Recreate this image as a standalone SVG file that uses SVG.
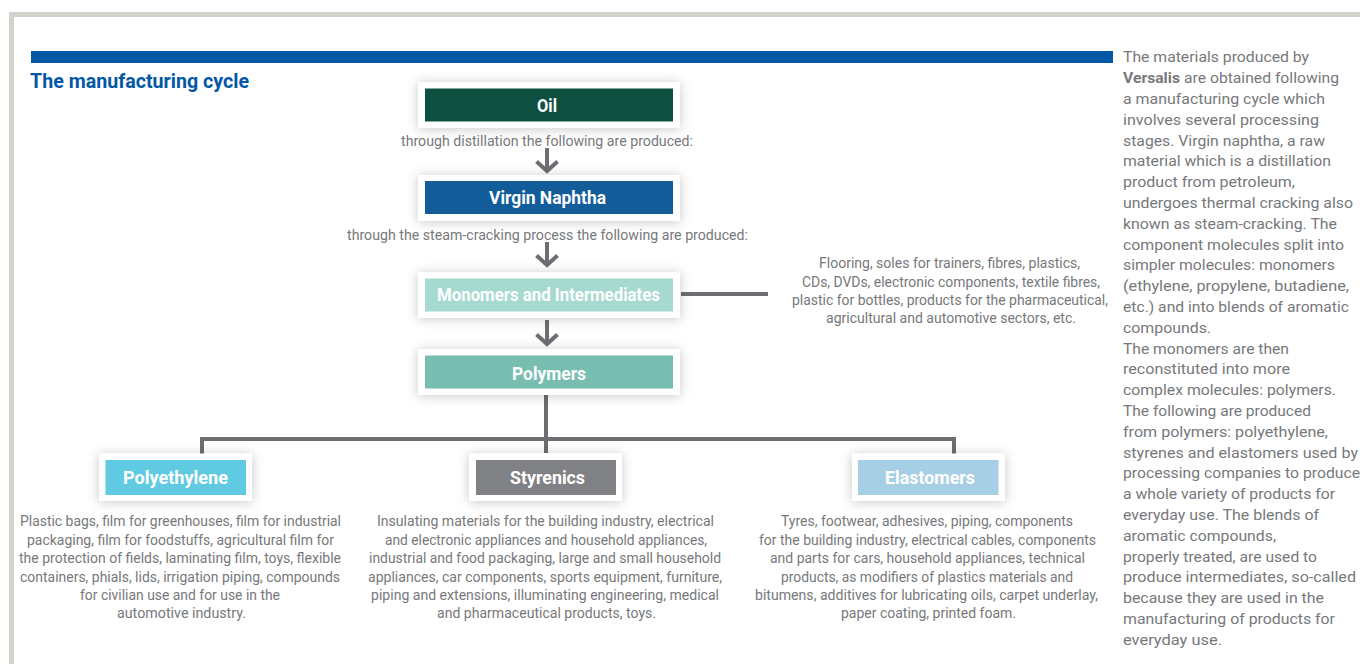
<svg xmlns="http://www.w3.org/2000/svg" width="1360" height="664" viewBox="0 0 1360 664">
<style>
text{font-family:"Roboto","Liberation Sans",sans-serif}
.b{font-size:14px;fill:#77787b;font-weight:400}
.p{font-size:15.5px;fill:#77787b;font-weight:400}
.n{font-size:18px;font-weight:700;fill:#fff}
.c{fill:none;stroke:#6d6e71;stroke-width:4}
.w{fill:#fff;filter:url(#s)}
</style>
<defs>
<filter id="s" x="-20%" y="-50%" width="140%" height="200%"><feDropShadow dx="0" dy="1" stdDeviation="6" flood-color="#000" flood-opacity="0.22"/></filter>
<marker id="a" markerUnits="userSpaceOnUse" markerWidth="28" markerHeight="28" refX="14" refY="14" orient="auto"><path d="M3.500 3.500L13 14L3.500 24.500" fill="none" stroke="#6d6e71" stroke-width="4"/></marker>
</defs>
<rect width="1360" height="664" fill="#fff"/>
<path d="M1360 14.500H11.500V664" fill="none" stroke="#d2d3cd" stroke-width="5"/>
<rect x="31" y="51" width="1082" height="12" fill="#0358a5"/>
<text x="30" y="88" textLength="219" lengthAdjust="spacingAndGlyphs" style="font-size:20px;font-weight:700;fill:#0358a5">The manufacturing cycle</text>
<g id="connectors">
<path class="c" d="M547 148V172" marker-end="url(#a)"/>
<path class="c" d="M547 242V266" marker-end="url(#a)"/>
<path class="c" d="M547 320V345" marker-end="url(#a)"/>
<path class="c" d="M681 294H768"/>
<path class="c" d="M546 395V453"/>
<path class="c" d="M202 455V439H954V455"/>
</g>
<g id="oil"><rect class="w" x="418" y="82" width="262" height="46"/><rect x="425" y="88.500" width="248" height="33" fill="#0d5040"/><text class="n" x="537" y="111.500" textLength="20" lengthAdjust="spacingAndGlyphs">Oil</text></g>
<g id="virgin-naphtha"><rect class="w" x="418" y="175" width="262" height="46"/><rect x="425" y="181" width="248" height="33" fill="#125d99"/><text class="n" x="489" y="204" textLength="117" lengthAdjust="spacingAndGlyphs">Virgin Naphtha</text></g>
<g id="monomers"><rect class="w" x="418" y="272" width="262" height="46"/><rect x="425" y="278.500" width="248" height="33" fill="#a6d9d0"/><text class="n" x="437" y="300.500" textLength="223" lengthAdjust="spacingAndGlyphs">Monomers and Intermediates</text></g>
<g id="polymers"><rect class="w" x="418" y="349" width="262" height="46"/><rect x="425" y="355.500" width="248" height="33" fill="#77bdb0"/><text class="n" x="512" y="379.500" textLength="74" lengthAdjust="spacingAndGlyphs">Polymers</text></g>
<g id="polyethylene"><rect class="w" x="99" y="453.500" width="153" height="47.500"/><rect x="105.500" y="460" width="140.500" height="35" fill="#60cae3"/><text class="n" x="123" y="484" textLength="105" lengthAdjust="spacingAndGlyphs">Polyethylene</text></g>
<g id="styrenics"><rect class="w" x="469" y="453.500" width="153" height="47.500"/><rect x="476" y="460" width="140" height="35" fill="#808184"/><text class="n" x="510" y="484" textLength="75" lengthAdjust="spacingAndGlyphs">Styrenics</text></g>
<g id="elastomers"><rect class="w" x="852" y="453.500" width="153" height="47.500"/><rect x="858" y="460" width="140.500" height="35" fill="#a6cfe5"/><text class="n" x="885" y="484" textLength="90" lengthAdjust="spacingAndGlyphs">Elastomers</text></g>
<g id="captions">
<text class="b" x="401" y="145.700" textLength="292" lengthAdjust="spacingAndGlyphs">through distillation the following are produced:</text>
<text class="b" x="347" y="239.700" textLength="401" lengthAdjust="spacingAndGlyphs">through the steam-cracking process the following are produced:</text>
</g>
<g id="monomers-text" transform="translate(0,0.700)">
<text class="b" x="819" y="267" textLength="261" lengthAdjust="spacingAndGlyphs">Flooring, soles for trainers, fibres, plastics,</text>
<text class="b" x="802" y="286" textLength="298" lengthAdjust="spacingAndGlyphs">CDs, DVDs, electronic components, textile fibres,</text>
<text class="b" x="792" y="304" textLength="316" lengthAdjust="spacingAndGlyphs">plastic for bottles, products for the pharmaceutical,</text>
<text class="b" x="826" y="322" textLength="250" lengthAdjust="spacingAndGlyphs">agricultural and automotive sectors, etc.</text>
</g>
<g id="polyethylene-text" transform="translate(0,0.700)">
<text class="b" x="20" y="525" textLength="321" lengthAdjust="spacingAndGlyphs">Plastic bags, film for greenhouses, film for industrial</text>
<text class="b" x="27" y="544" textLength="307" lengthAdjust="spacingAndGlyphs">packaging, film for foodstuffs, agricultural film for</text>
<text class="b" x="19" y="562" textLength="322" lengthAdjust="spacingAndGlyphs">the protection of fields, laminating film, toys, flexible</text>
<text class="b" x="20" y="581" textLength="320" lengthAdjust="spacingAndGlyphs">containers, phials, lids, irrigation piping, compounds</text>
<text class="b" x="80" y="599" textLength="200" lengthAdjust="spacingAndGlyphs">for civilian use and for use in the</text>
<text class="b" x="117" y="617" textLength="129" lengthAdjust="spacingAndGlyphs">automotive industry.</text>
</g>
<g id="styrenics-text" transform="translate(0,0.700)">
<text class="b" x="377" y="525" textLength="337" lengthAdjust="spacingAndGlyphs">Insulating materials for the building industry, electrical</text>
<text class="b" x="385" y="544" textLength="322" lengthAdjust="spacingAndGlyphs">and electronic appliances and household appliances,</text>
<text class="b" x="369" y="562" textLength="352" lengthAdjust="spacingAndGlyphs">industrial and food packaging, large and small household</text>
<text class="b" x="368" y="581" textLength="354" lengthAdjust="spacingAndGlyphs">appliances, car components, sports equipment, furniture,</text>
<text class="b" x="371" y="599" textLength="348" lengthAdjust="spacingAndGlyphs">piping and extensions, illuminating engineering, medical</text>
<text class="b" x="437" y="617" textLength="219" lengthAdjust="spacingAndGlyphs">and pharmaceutical products, toys.</text>
</g>
<g id="elastomers-text" transform="translate(0,0.700)">
<text class="b" x="781" y="525" textLength="292" lengthAdjust="spacingAndGlyphs">Tyres, footwear, adhesives, piping, components</text>
<text class="b" x="759" y="544" textLength="337" lengthAdjust="spacingAndGlyphs">for the building industry, electrical cables, components</text>
<text class="b" x="770" y="562" textLength="315" lengthAdjust="spacingAndGlyphs">and parts for cars, household appliances, technical</text>
<text class="b" x="781" y="581" textLength="292" lengthAdjust="spacingAndGlyphs">products, as modifiers of plastics materials and</text>
<text class="b" x="755" y="599" textLength="343" lengthAdjust="spacingAndGlyphs">bitumens, additives for lubricating oils, carpet underlay,</text>
<text class="b" x="841" y="617" textLength="175" lengthAdjust="spacingAndGlyphs">paper coating, printed foam.</text>
</g>
<g id="side-text" transform="translate(0,-0.600)">
<text class="p" x="1123" y="63" textLength="186" lengthAdjust="spacingAndGlyphs">The materials produced by</text>
<text class="p" x="1123" y="83.800" textLength="57" lengthAdjust="spacingAndGlyphs" style="font-weight:700">Versalis</text>
<text class="p" x="1184" y="83.800" textLength="155" lengthAdjust="spacingAndGlyphs">are obtained following</text>
<text class="p" x="1123" y="104.600" textLength="202" lengthAdjust="spacingAndGlyphs">a manufacturing cycle which</text>
<text class="p" x="1123" y="125.400" textLength="196" lengthAdjust="spacingAndGlyphs">involves several processing</text>
<text class="p" x="1123" y="146.200" textLength="202" lengthAdjust="spacingAndGlyphs">stages. Virgin naphtha, a raw</text>
<text class="p" x="1123" y="167" textLength="208" lengthAdjust="spacingAndGlyphs">material which is a distillation</text>
<text class="p" x="1123" y="187.800" textLength="172" lengthAdjust="spacingAndGlyphs">product from petroleum,</text>
<text class="p" x="1123" y="208.600" textLength="230" lengthAdjust="spacingAndGlyphs">undergoes thermal cracking also</text>
<text class="p" x="1123" y="229.400" textLength="214" lengthAdjust="spacingAndGlyphs">known as steam-cracking. The</text>
<text class="p" x="1123" y="250.200" textLength="221" lengthAdjust="spacingAndGlyphs">component molecules split into</text>
<text class="p" x="1123" y="271" textLength="212" lengthAdjust="spacingAndGlyphs">simpler molecules: monomers</text>
<text class="p" x="1123" y="291.800" textLength="226" lengthAdjust="spacingAndGlyphs">(ethylene, propylene, butadiene,</text>
<text class="p" x="1123" y="312.600" textLength="226" lengthAdjust="spacingAndGlyphs">etc.) and into blends of aromatic</text>
<text class="p" x="1123" y="333.400" textLength="88" lengthAdjust="spacingAndGlyphs">compounds.</text>
<text class="p" x="1123" y="354.200" textLength="166" lengthAdjust="spacingAndGlyphs">The monomers are then</text>
<text class="p" x="1123" y="375" textLength="167" lengthAdjust="spacingAndGlyphs">reconstituted into more</text>
<text class="p" x="1123" y="395.800" textLength="213" lengthAdjust="spacingAndGlyphs">complex molecules: polymers.</text>
<text class="p" x="1123" y="416.600" textLength="188" lengthAdjust="spacingAndGlyphs">The following are produced</text>
<text class="p" x="1123" y="437.400" textLength="205" lengthAdjust="spacingAndGlyphs">from polymers: polyethylene,</text>
<text class="p" x="1123" y="458.200" textLength="235" lengthAdjust="spacingAndGlyphs">styrenes and elastomers used by</text>
<text class="p" x="1123" y="479" textLength="237" lengthAdjust="spacingAndGlyphs">processing companies to produce</text>
<text class="p" x="1123" y="499.800" textLength="212" lengthAdjust="spacingAndGlyphs">a whole variety of products for</text>
<text class="p" x="1123" y="520.600" textLength="196" lengthAdjust="spacingAndGlyphs">everyday use. The blends of</text>
<text class="p" x="1123" y="541.400" textLength="153" lengthAdjust="spacingAndGlyphs">aromatic compounds,</text>
<text class="p" x="1123" y="562.200" textLength="194" lengthAdjust="spacingAndGlyphs">properly treated, are used to</text>
<text class="p" x="1123" y="583" textLength="233" lengthAdjust="spacingAndGlyphs">produce intermediates, so-called</text>
<text class="p" x="1123" y="603.800" textLength="201" lengthAdjust="spacingAndGlyphs">because they are used in the</text>
<text class="p" x="1123" y="624.600" textLength="212" lengthAdjust="spacingAndGlyphs">manufacturing of products for</text>
<text class="p" x="1123" y="645.400" textLength="99" lengthAdjust="spacingAndGlyphs">everyday use.</text>
</g>
</svg>
